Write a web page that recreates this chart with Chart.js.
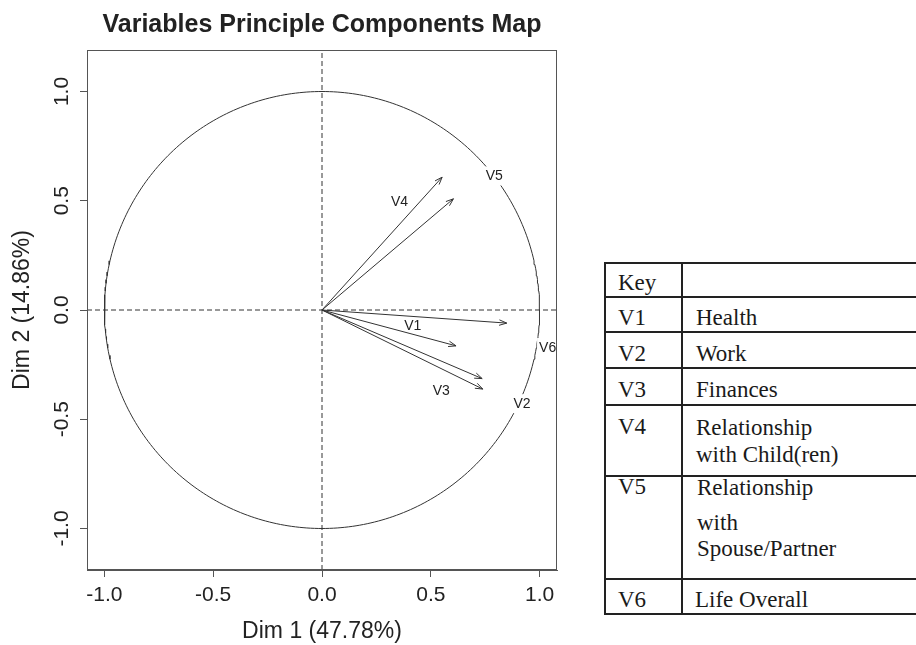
<!DOCTYPE html>
<html>
<head>
<meta charset="utf-8">
<script src="https://cdn.jsdelivr.net/npm/chart.js@4/dist/chart.umd.min.js"></script>
<style>
    body { margin: 0; background: #fff; }
    #page { position: relative; width: 916px; height: 645px; overflow: hidden; background: #fff; }
    #pcaChart { position: absolute; left: 0; top: 0; }
    #keyTable { position: absolute; left: 604px; top: 262px; width: 330px; height: 353px;
        font-family: "Liberation Serif", "Times New Roman", serif; font-size: 23px; color: #1a1a1a; }
    .hline { position: absolute; left: 0; right: 0; height: 2px; background: #222; }
    .vline { position: absolute; top: 0; bottom: 0; width: 2px; background: #222; }
    .cell { position: absolute; line-height: 26px; white-space: nowrap; }
</style>
</head>
<body>
<div id="page">
    <canvas id="pcaChart" width="600" height="645"></canvas>
    <div id="keyTable"></div>
</div>
<script>
// Coordonnées des variables (Dim 1, Dim 2)
var varCodes = ['V1', 'V2', 'V3', 'V4', 'V5', 'V6'];
var dim1 = [0.849, 0.739, 0.736, 0.552, 0.604, 0.616];
var dim2 = [-0.060, -0.362, -0.314, 0.608, 0.509, -0.164];
// position des étiquettes
var labelDim1 = [0.417, 0.919, 0.548, 0.356, 0.792, 1.037];
var labelDim2 = [-0.075, -0.431, -0.370, 0.494, 0.611, -0.174];
var tickValues = [-1, -0.5, 0, 0.5, 1];
var xMin = -1.08, xMax = 1.08, yMin = -1.19, yMax = 1.19;

// Tableau "Key"
var keyCodes = ['Key', 'V1', 'V2', 'V3', 'V4', 'V5', 'V6'];
var keyNames = [[], ['Health'], ['Work'], ['Finances'], ['Relationship', 'with Child(ren)'],
    ['Relationship', 'with', 'Spouse/Partner'], ['Life Overall']];

function buildKeyTable() {
    var box = document.getElementById('keyTable');
    var rowLines = [0, 34, 69, 105, 142, 213, 316, 351];
    var codeTops = [8, 43, 79, 115, 152, 212, 325];
    var nameTops = [[], [43], [79], [115], [153, 180], [213, 248, 274], [325]];
    var nameLeft = [0, 92, 92, 92, 92, 93, 91];
    rowLines.forEach(function(y) {
        var d = document.createElement('div');
        d.className = 'hline';
        d.style.top = y + 'px';
        box.appendChild(d);
    });
    [0, 77].forEach(function(x) {
        var d = document.createElement('div');
        d.className = 'vline';
        d.style.left = x + 'px';
        box.appendChild(d);
    });
    keyCodes.forEach(function(code, i) {
        var c = document.createElement('div');
        c.className = 'cell';
        c.style.left = '14px';
        c.style.top = codeTops[i] + 'px';
        c.textContent = code;
        box.appendChild(c);
        keyNames[i].forEach(function(line, j) {
            var n = document.createElement('div');
            n.className = 'cell';
            n.style.left = nameLeft[i] + 'px';
            n.style.top = nameTops[i][j] + 'px';
            n.textContent = line;
            box.appendChild(n);
        });
    });
}
buildKeyTable();

// cercle des corrélations
var circlePts = [];
for (var a = 0; a <= 360; a++) {
    circlePts.push({ x: Math.cos(a * Math.PI / 180), y: Math.sin(a * Math.PI / 180) });
}

var ink = '#222';
var lineCol = '#333';

var datasets = [];
varCodes.forEach(function(code, i) {
    datasets.push({
        label: code,
        data: [{ x: 0, y: 0 }, { x: dim1[i], y: dim2[i] }],
        showLine: true,
        borderColor: lineCol,
        borderWidth: 1,
        pointRadius: 0,
        isArrow: true,
        order: 1
    });
});
datasets.push({
    label: 'labels',
    data: varCodes.map(function(c, i) { return { x: labelDim1[i], y: labelDim2[i] }; }),
    showLine: false,
    pointRadius: 0,
    isLabels: true,
    order: 2
});
datasets.push({
    label: 'circle',
    data: circlePts,
    showLine: true,
    borderColor: lineCol,
    borderWidth: 1,
    pointRadius: 0,
    order: 3
});
datasets.push({
    label: 'h0',
    data: [{ x: xMin, y: 0 }, { x: xMax, y: 0 }],
    showLine: true,
    borderColor: lineCol,
    borderWidth: 1,
    borderDash: [5, 3],
    pointRadius: 0,
    order: 3
});
datasets.push({
    label: 'v0',
    data: [{ x: 0, y: yMin }, { x: 0, y: yMax }],
    showLine: true,
    borderColor: lineCol,
    borderWidth: 1,
    borderDash: [5, 3],
    pointRadius: 0,
    order: 3
});

// étiquettes V1..V6 avec fond blanc
var labelPlugin = {
    id: 'varLabels',
    afterDatasetDraw: function(chart, args) {
        if (!args.meta._dataset.isLabels) return;
        var ctx = chart.ctx;
        ctx.save();
        ctx.font = '14px "Liberation Sans", Arial, sans-serif';
        ctx.textAlign = 'center';
        ctx.textBaseline = 'middle';
        args.meta.data.forEach(function(pt, i) {
            var w = ctx.measureText(varCodes[i]).width;
            ctx.fillStyle = '#fff';
            ctx.fillRect(pt.x - w / 2 - 2, pt.y - 10, w + 4, 19);
            ctx.fillStyle = ink;
            ctx.fillText(varCodes[i], pt.x, pt.y);
        });
        ctx.restore();
    }
};

// pointes de flèches + cadre + étiquettes de l'axe y
var arrowPlugin = {
    id: 'arrowsAndFrame',
    afterDatasetsDraw: function(chart) {
        var ctx = chart.ctx;
        ctx.save();
        ctx.strokeStyle = lineCol;
        ctx.lineWidth = 1;
        chart.data.datasets.forEach(function(ds, i) {
            if (!ds.isArrow) return;
            var pts = chart.getDatasetMeta(i).data;
            var o = pts[0], t = pts[1];
            var ang = Math.atan2(t.y - o.y, t.x - o.x);
            var len = 8, spread = 20 * Math.PI / 180;
            ctx.beginPath();
            ctx.moveTo(t.x - len * Math.cos(ang - spread), t.y - len * Math.sin(ang - spread));
            ctx.lineTo(t.x, t.y);
            ctx.lineTo(t.x - len * Math.cos(ang + spread), t.y - len * Math.sin(ang + spread));
            ctx.stroke();
        });
        var ca = chart.chartArea;
        ctx.strokeStyle = '#555';
        ctx.strokeRect(ca.left + 0.5, ca.top + 0.5, ca.right - ca.left - 1, ca.bottom - ca.top - 1);
        ctx.restore();
    },
    afterDraw: function(chart) {
        var ctx = chart.ctx;
        var ys = chart.scales.y;
        ctx.save();
        ctx.font = '21px "Liberation Sans", Arial, sans-serif';
        ctx.fillStyle = ink;
        ctx.textAlign = 'center';
        ctx.textBaseline = 'middle';
        tickValues.forEach(function(v) {
            ctx.save();
            ctx.translate(62, ys.getPixelForValue(v));
            ctx.rotate(-Math.PI / 2);
            ctx.fillText(v.toFixed(1), 0, 0);
            ctx.restore();
        });
        ctx.restore();
    }
};

var ctx = document.getElementById('pcaChart').getContext('2d');
var pcaChart = new Chart(ctx, {
    type: 'scatter',
    data: { datasets: datasets },
    options: {
        responsive: false,
        animation: false,
        layout: { padding: { left: 0, right: 43, top: 0, bottom: 0 } },
        plugins: {
            legend: { display: false },
            tooltip: { enabled: false },
            title: {
                display: true,
                text: 'Variables Principle Components Map',
                fullSize: false,
                color: ink,
                font: { family: '"Liberation Sans", Arial, sans-serif', size: 25, weight: 'bold' },
                padding: { top: 10, bottom: 10 }
            }
        },
        scales: {
            x: {
                type: 'linear',
                min: xMin,
                max: xMax,
                afterFit: function(scale) { scale.height = 75; },
                afterBuildTicks: function(scale) {
                    scale.ticks = tickValues.map(function(v) { return { value: v }; });
                },
                ticks: {
                    color: ink,
                    padding: 6,
                    maxRotation: 0,
                    font: { family: '"Liberation Sans", Arial, sans-serif', size: 21 },
                    callback: function(v) { return Number(v).toFixed(1); }
                },
                grid: { drawOnChartArea: false, tickLength: 7, color: '#555' },
                border: { display: true, color: '#555' },
                title: {
                    display: true,
                    text: 'Dim 1 (47.78%)',
                    color: ink,
                    font: { family: '"Liberation Sans", Arial, sans-serif', size: 23 },
                    padding: { top: 0, bottom: 0 }
                }
            },
            y: {
                type: 'linear',
                min: yMin,
                max: yMax,
                afterFit: function(scale) { scale.width = 87; },
                afterBuildTicks: function(scale) {
                    scale.ticks = tickValues.map(function(v) { return { value: v }; });
                },
                ticks: { display: false },
                grid: { drawOnChartArea: false, tickLength: 7, color: '#555' },
                border: { display: true, color: '#555' },
                title: {
                    display: true,
                    text: 'Dim 2 (14.86%)',
                    color: ink,
                    font: { family: '"Liberation Sans", Arial, sans-serif', size: 23 },
                    padding: { top: 9, bottom: 0 }
                }
            }
        }
    },
    plugins: [labelPlugin, arrowPlugin]
});
</script>
</body>
</html>
